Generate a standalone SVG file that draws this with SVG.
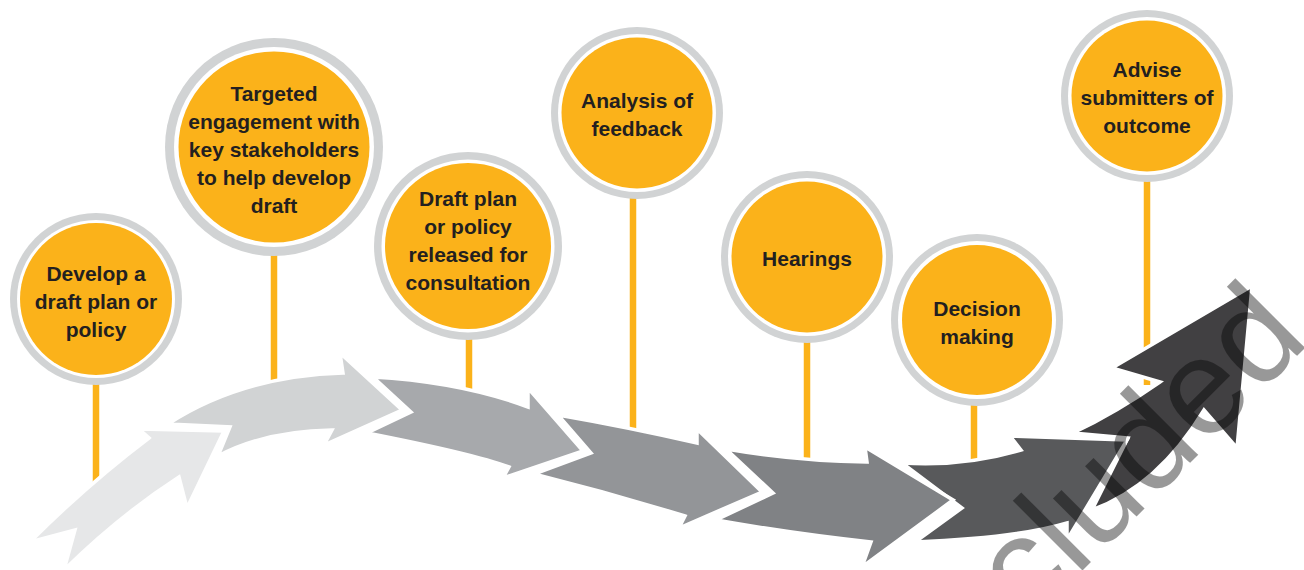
<svg xmlns="http://www.w3.org/2000/svg" width="1304" height="570" viewBox="0 0 1304 570">
  <style>
    .ring { fill: #d1d3d4; }
    .gap { fill: #ffffff; }
    .core { fill: #fbb21a; }
    .stick { stroke: #fbb21a; stroke-width: 6.5; fill: none; }
    .lbl { font-family: "Liberation Sans", Arial, sans-serif; font-weight: bold; font-size: 21px; fill: #231f20; text-anchor: middle; }
    .arr { stroke: #ffffff; stroke-width: 3.5; stroke-linejoin: miter; stroke-miterlimit: 10; }
    .wm { font-family: "Liberation Sans", Arial, sans-serif; font-size: 136px; fill: #000000; opacity: 0.4; }
  </style>
  <rect x="0" y="0" width="1304" height="570" fill="#ffffff"/>

  <g id="sticks">
    <line class="stick" x1="96" y1="370" x2="96" y2="505"/>
    <line class="stick" x1="274" y1="240" x2="274" y2="400"/>
    <line class="stick" x1="469" y1="330" x2="469" y2="410"/>
    <line class="stick" x1="633" y1="190" x2="633" y2="445"/>
    <line class="stick" x1="807" y1="330" x2="807" y2="475"/>
    <line class="stick" x1="974" y1="395" x2="974" y2="475"/>
    <line class="stick" x1="1147" y1="170" x2="1147" y2="385"/>
  </g>

  <g id="connectors">
    <path id="arrow7" class="arr" fill="#414042" d="M1073,433 Q1117,412 1160,382 L1112,368 L1252,286 L1237,448 L1204,410 Q1158,486 1092,510 L1128,438 Z"/>
    <path id="arrow6" class="arr" fill="#58595b" d="M902,463 Q964,467 1021,450 L1010,436 L1127,440 L1067,540 L1067,523 Q1017,538 915,542 L962,508 Z"/>
    <path id="arrow5" class="arr" fill="#808285" d="M726,449 Q796,461 867,462 L865,447 L953,500 L862,567 L871,542 Q796,534 716,520 L773,493 Z"/>
    <path id="arrow4" class="arr" fill="#939598" d="M558,415 Q627,427 697,443 L697,429 L762,492 L679,528 L685,516 Q610,493 534,474 L591,453 Z"/>
    <path id="arrow3" class="arr" fill="#a7a9ac" d="M373,377 Q461,382 528,407 L528,388 L583,451 L503,478 L509,467 Q474,454 367,433 L411,412 Z"/>
    <path id="arrow2" class="arr" fill="#d1d3d4" d="M168,424 Q242,376 343,373 L340,353 L402,410 L324,445 L332,430 Q265,431 218,456 L230,427 Z"/>
    <path id="arrow1" class="arr" fill="#e6e7e8" d="M30,542 Q88,484 149,438 L139,429 L224,431 L187,508 L179,477 Q120,515 64,570 L75,530 Z"/>
  </g>

  <g id="node1">
    <circle class="ring" cx="96" cy="299" r="86"/>
    <circle class="gap" cx="96" cy="299" r="79"/>
    <circle class="core" cx="96" cy="299" r="76"/>
    <text class="lbl" x="96" y="281">Develop a</text>
    <text class="lbl" x="96" y="309">draft plan or</text>
    <text class="lbl" x="96" y="337">policy</text>
  </g>

  <g id="node2">
    <circle class="ring" cx="274" cy="147" r="109"/>
    <circle class="gap" cx="274" cy="147" r="100"/>
    <circle class="core" cx="274" cy="147" r="95.5"/>
    <text class="lbl" x="274" y="101">Targeted</text>
    <text class="lbl" x="274" y="129">engagement with</text>
    <text class="lbl" x="274" y="157">key stakeholders</text>
    <text class="lbl" x="274" y="185">to help develop</text>
    <text class="lbl" x="274" y="213">draft</text>
  </g>

  <g id="node3">
    <circle class="ring" cx="468" cy="246" r="94"/>
    <circle class="gap" cx="468" cy="246" r="86.5"/>
    <circle class="core" cx="468" cy="246" r="83"/>
    <text class="lbl" x="468" y="206">Draft plan</text>
    <text class="lbl" x="468" y="234">or policy</text>
    <text class="lbl" x="468" y="262">released for</text>
    <text class="lbl" x="468" y="290">consultation</text>
  </g>

  <g id="node4">
    <circle class="ring" cx="637" cy="113" r="86"/>
    <circle class="gap" cx="637" cy="113" r="79"/>
    <circle class="core" cx="637" cy="113" r="75.5"/>
    <text class="lbl" x="637" y="108">Analysis of</text>
    <text class="lbl" x="637" y="136">feedback</text>
  </g>

  <g id="node5">
    <circle class="ring" cx="807" cy="257" r="86"/>
    <circle class="gap" cx="807" cy="257" r="79"/>
    <circle class="core" cx="807" cy="257" r="75.5"/>
    <text class="lbl" x="807" y="266">Hearings</text>
  </g>

  <g id="node6">
    <circle class="ring" cx="977" cy="320" r="86"/>
    <circle class="gap" cx="977" cy="320" r="79"/>
    <circle class="core" cx="977" cy="320" r="75"/>
    <text class="lbl" x="977" y="316">Decision</text>
    <text class="lbl" x="977" y="344">making</text>
  </g>

  <g id="node7">
    <circle class="ring" cx="1147" cy="96" r="86"/>
    <circle class="gap" cx="1147" cy="96" r="79"/>
    <circle class="core" cx="1147" cy="96" r="75.5"/>
    <text class="lbl" x="1147" y="77">Advise</text>
    <text class="lbl" x="1147" y="105">submitters of</text>
    <text class="lbl" x="1147" y="133">outcome</text>
  </g>

  <text class="wm" transform="translate(1028,625) rotate(-45)" x="0" y="0">cluded</text>
</svg>
